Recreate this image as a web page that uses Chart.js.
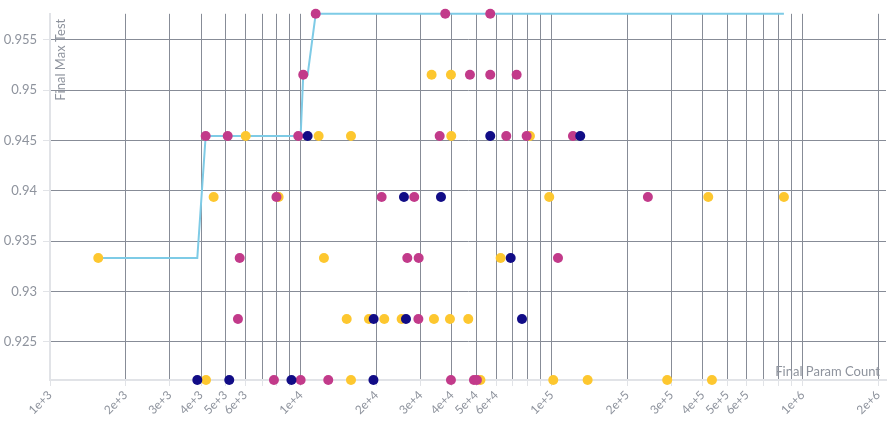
<!DOCTYPE html>
<html>
<head>
<meta charset="utf-8">
<script src="https://cdn.jsdelivr.net/npm/chart.js@4.4.0/dist/chart.umd.min.js"></script>
<style>
  body { margin: 0; background: #fff; }
  #wrap { width: 893px; height: 422px; }
</style>
</head>
<body>
<div id="wrap"><canvas id="paretoChart"></canvas></div>
<script>
// scatter groups: param count / final max test
const navyParams = [3865, 5183, 9173, 19470, 10640, 25760, 36180, 19500, 26240, 56870, 68600, 76100, 129900];
const navyScores = [0.92121, 0.92121, 0.92121, 0.92121, 0.94545, 0.93939, 0.93939, 0.92727, 0.92727, 0.94545, 0.93333, 0.92727, 0.94545];

const magentaParams = [11460, 37630, 56870, 10220, 47200, 56870, 72450, 4174, 5108, 9763, 35750, 65880, 79430, 121500,
  7990, 20990, 28310, 241700, 5703, 26560, 29480, 105900, 5614, 29400, 7810, 9980, 12860, 39650, 48970, 50340];
const magentaScores = [0.95758, 0.95758, 0.95758, 0.95152, 0.95152, 0.95152, 0.95152, 0.94545, 0.94545, 0.94545, 0.94545, 0.94545, 0.94545, 0.94545,
  0.93939, 0.93939, 0.93939, 0.93939, 0.93333, 0.93333, 0.93333, 0.93333, 0.92727, 0.92727, 0.92121, 0.92121, 0.92121, 0.92121, 0.92121, 0.92121];

const yellowParams = [33200, 39650, 6026, 11770, 15840, 39760, 81880, 4491, 8155, 97720, 420600, 842400, 1557, 12360, 62560,
  15230, 18680, 21500, 25220, 33930, 39290, 46480, 4186, 15840, 51970, 101400, 139000, 288600, 435100];
const yellowScores = [0.95152, 0.95152, 0.94545, 0.94545, 0.94545, 0.94545, 0.94545, 0.93939, 0.93939, 0.93939, 0.93939, 0.93939, 0.93333, 0.93333, 0.93333,
  0.92727, 0.92727, 0.92727, 0.92727, 0.92727, 0.92727, 0.92727, 0.92121, 0.92121, 0.92121, 0.92121, 0.92121, 0.92121, 0.92121];

const yTicks = [0.925, 0.93, 0.935, 0.94, 0.945, 0.95, 0.955];
const xDecades = [1e3, 1e4, 1e5, 1e6];
const xLabelledSteps = [1, 2, 3, 4, 5, 6];
const xMin = 1000, xMax = 2150000;
const yMin = 0.92121, yMax = 0.95758;

const gridColor = "#878c97";
const axisColor = "#e1e3e7";
const textColor = "#8e939d";

const toPoints = (xs, ys) => xs.map((x, i) => ({ x: x, y: ys[i] }));

// gridlines at every 1..9 step in each decade
const xGridValues = [];
xDecades.forEach((d) => {
  for (let s = 1; s <= 9; s++) {
    if (d * s <= xMax) xGridValues.push(d * s);
  }
});

// best score so far, walking up the param count
const allPoints = [
  ...toPoints(navyParams, navyScores),
  ...toPoints(magentaParams, magentaScores),
  ...toPoints(yellowParams, yellowScores),
].sort((a, b) => a.x - b.x);
let best = -Infinity;
const frontier = allPoints.map((p) => {
  best = Math.max(best, p.y);
  return { x: p.x, y: best };
});

const axisTitles = {
  id: "axisTitles",
  beforeDatasetsDraw(chart) {
    const { ctx, chartArea } = chart;
    ctx.save();
    ctx.fillStyle = textColor;
    ctx.font = "13px Lato";
    ctx.textBaseline = "middle";
    ctx.textAlign = "right";
    ctx.fillText("Final Param Count", chartArea.right - 6, chartArea.bottom - 8);
    ctx.translate(chartArea.left + 11, chartArea.top + 5);
    ctx.rotate(-Math.PI / 2);
    ctx.fillText("Final Max Test", 0, 0);
    ctx.restore();
  },
};

new Chart(document.getElementById("paretoChart"), {
  type: "scatter",
  data: {
    datasets: [
      {
        label: "navy",
        data: toPoints(navyParams, navyScores),
        backgroundColor: "#110c86",
        pointRadius: 5,
        pointBorderWidth: 0,
        clip: false,
        order: 0,
      },
      {
        label: "magenta",
        data: toPoints(magentaParams, magentaScores),
        backgroundColor: "#c23a8a",
        pointRadius: 5,
        pointBorderWidth: 0,
        clip: false,
        order: 1,
      },
      {
        label: "yellow",
        data: toPoints(yellowParams, yellowScores),
        backgroundColor: "#fdc72f",
        pointRadius: 5,
        pointBorderWidth: 0,
        clip: false,
        order: 2,
      },
      {
        type: "line",
        label: "frontier",
        data: frontier,
        borderColor: "#7ecbe6",
        borderWidth: 2,
        pointRadius: 0,
        tension: 0,
        fill: false,
        clip: false,
        order: 3,
      },
    ],
  },
  options: {
    responsive: true,
    maintainAspectRatio: false,
    animation: false,
    events: [],
    layout: { padding: { top: 12, right: 7, left: 0, bottom: 0 } },
    plugins: {
      legend: { display: false },
      tooltip: { enabled: false },
    },
    scales: {
      x: {
        type: "logarithmic",
        min: xMin,
        max: xMax,
        afterBuildTicks: (s) => {
          s.ticks = xGridValues.map((v) => ({ value: v }));
        },
        afterFit: (s) => {
          s.height = 42;
        },
        grid: { color: gridColor, lineWidth: 1, tickLength: 6, tickColor: axisColor },
        border: { color: axisColor, width: 2 },
        ticks: {
          autoSkip: false,
          minRotation: 45,
          maxRotation: 45,
          padding: 2,
          color: textColor,
          font: { family: "Lato", size: 12 },
          callback: (v) => {
            const e = Math.floor(Math.log10(v) + 1e-9);
            const m = Math.round(v / Math.pow(10, e));
            return xLabelledSteps.includes(m) ? m + "e+" + e : "";
          },
        },
      },
      y: {
        min: yMin,
        max: yMax,
        afterBuildTicks: (s) => {
          s.ticks = yTicks.map((v) => ({ value: v }));
        },
        afterFit: (s) => {
          s.width = 50;
        },
        grid: { color: gridColor, lineWidth: 1, tickLength: 7, tickColor: axisColor },
        border: { color: axisColor, width: 2 },
        ticks: {
          padding: 6,
          color: textColor,
          font: { family: "Lato", size: 13 },
          callback: (v) => String(v),
        },
      },
    },
  },
  plugins: [axisTitles],
});
</script>
</body>
</html>
